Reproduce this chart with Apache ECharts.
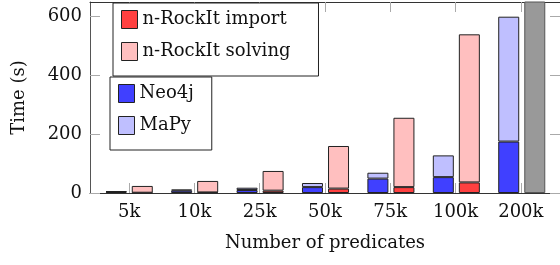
<!DOCTYPE html>
<html lang="en">
<head>
    <meta charset="UTF-8">
    <title>Number of predicates</title>
    <script src="https://cdn.jsdelivr.net/npm/echarts/dist/echarts.min.js"></script>
    <style>
        html, body { margin: 0; padding: 0; background: #fff; }
    </style>
</head>
<body>
    <div id="chart" style="width: 560px; height: 265px;"></div>
    <script>
        // values (seconds)
        const categories = ['5k', '10k', '25k', '50k', '75k', '100k', '200k'];
        const neo4j = [4, 8, 10, 20, 49, 54, 175];
        const mapy = [2, 4, 8, 14, 20, 74, 425];
        const rockitImport = [1, 2, 8, 15, 20, 36, null];
        const rockitSolving = [23, 39, 67, 145, 236, 504, null];
        const rockitTimeout = [null, null, null, null, null, null, 1000];
        const yTicks = [0, 200, 400, 600];

        const font = 'DejaVu Serif';
        const fs = 18;
        const xTicks = categories.map((c, i) => i);

        // frame grid spans -0.6..6.6 in category units, bar grid covers the 7 bands
        const gLeft = 90, gWidth = 471, gTop = 2, gHeight = 191;
        const unit = gWidth / 7.2;

        function barSeries(name, stack, data, color, border) {
            return {
                name: name,
                type: 'bar',
                stack: stack,
                xAxisIndex: 2,
                yAxisIndex: 2,
                barWidth: 21,
                barGap: '24%',
                data: data.map(v => (v == null ? '-' : v)),
                itemStyle: { color: color, borderColor: border || '#222', borderWidth: 1 }
            };
        }

        const legendBase = {
            orient: 'vertical',
            icon: 'rect',
            itemWidth: 16,
            itemHeight: 18,
            itemGap: 7,
            borderColor: '#222',
            borderWidth: 1,
            borderRadius: 0,
            backgroundColor: '#fff',
            selectedMode: false,
            itemStyle: { borderColor: '#222', borderWidth: 1 },
            textStyle: { fontFamily: font, fontSize: fs, color: '#111', lineHeight: 25 }
        };

        const tickStyle = { color: '#aaa' };
        const frameLine = { onZero: false, lineStyle: { color: '#333', width: 1 } };

        const chart = echarts.init(document.getElementById('chart'));
        chart.setOption({
            animation: false,
            textStyle: { fontFamily: font },
            grid: [
                { left: gLeft, top: gTop, width: gWidth, height: gHeight },
                { left: gLeft + 0.1 * unit, top: gTop, width: 7 * unit, height: gHeight }
            ],
            legend: [
                Object.assign({}, legendBase, {
                    data: ['n-RockIt import', 'n-RockIt solving'],
                    left: 113, top: 3, padding: [4, 28, 12, 8]
                }),
                Object.assign({}, legendBase, {
                    data: ['Neo4j', 'MaPy'],
                    left: 110, top: 77, padding: [4, 18, 12, 8]
                })
            ],
            xAxis: [{
                type: 'value',
                gridIndex: 0,
                min: -0.6,
                max: 6.6,
                position: 'bottom',
                name: 'Number of predicates',
                nameLocation: 'middle',
                nameGap: 41,
                nameTextStyle: { fontFamily: font, fontSize: fs, color: '#111' },
                splitLine: { show: false },
                axisLine: frameLine,
                axisTick: { inside: true, length: 10, customValues: xTicks, lineStyle: tickStyle },
                axisLabel: {
                    customValues: xTicks,
                    margin: 10,
                    fontFamily: font, fontSize: fs, color: '#111',
                    formatter: v => categories[v]
                }
            }, {
                type: 'value',
                gridIndex: 0,
                min: -0.6,
                max: 6.6,
                position: 'top',
                splitLine: { show: false },
                axisLine: frameLine,
                axisTick: { inside: true, length: 10, customValues: xTicks, lineStyle: tickStyle },
                axisLabel: { show: false }
            }, {
                type: 'category',
                gridIndex: 1,
                data: categories,
                show: false
            }],
            yAxis: [{
                type: 'value',
                gridIndex: 0,
                min: 0,
                max: 650,
                position: 'left',
                name: 'Time (s)',
                nameLocation: 'middle',
                nameGap: 62,
                nameTextStyle: { fontFamily: font, fontSize: fs, color: '#111' },
                splitLine: { show: false },
                axisLine: { show: true, onZero: false, lineStyle: { color: '#555', width: 1 } },
                axisTick: { show: true, inside: true, length: 10, customValues: yTicks, lineStyle: tickStyle },
                axisLabel: { customValues: yTicks, margin: 8, fontFamily: font, fontSize: fs, color: '#111' }
            }, {
                type: 'value',
                gridIndex: 0,
                min: 0,
                max: 650,
                position: 'right',
                splitLine: { show: false },
                axisLine: { show: true, onZero: false, lineStyle: { color: '#333', width: 1 } },
                axisTick: { show: true, inside: true, length: 10, customValues: yTicks, lineStyle: tickStyle },
                axisLabel: { show: false }
            }, {
                type: 'value',
                gridIndex: 1,
                min: 0,
                max: 650,
                show: false
            }],
            series: [
                barSeries('Neo4j', 'a', neo4j, '#4040ff'),
                barSeries('MaPy', 'a', mapy, '#bfbfff'),
                barSeries('n-RockIt import', 'b', rockitImport, '#ff4040'),
                barSeries('n-RockIt solving', 'b', rockitSolving, '#ffbfbf'),
                barSeries('n-RockIt timeout', 'b', rockitTimeout, '#999999', '#555')
            ]
        });
    </script>
</body>
</html>
